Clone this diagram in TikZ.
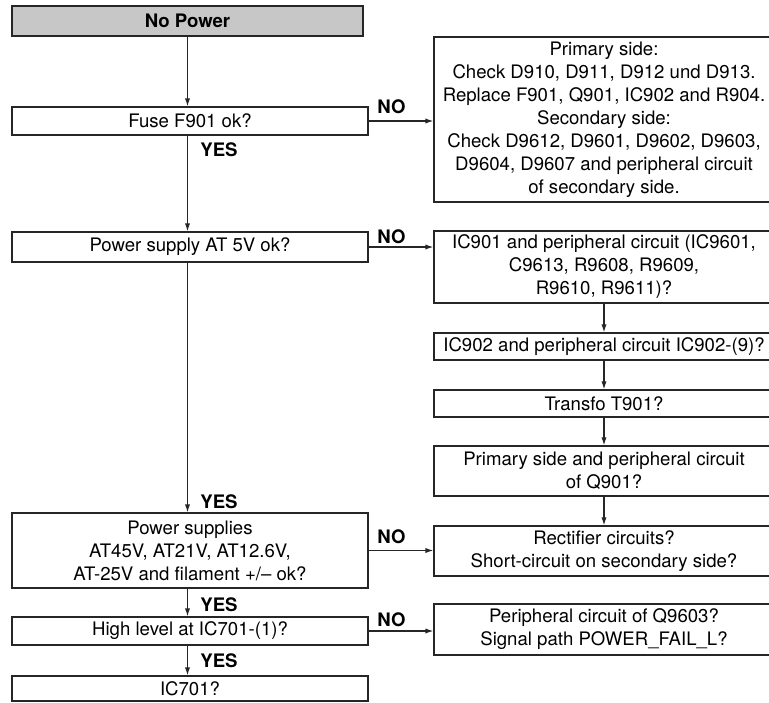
\documentclass[tikz,border=0pt]{standalone}
\usepackage{fontspec}
\setmainfont{TeX Gyre Heros}
\usetikzlibrary{arrows.meta}
\tikzset{
  box/.style={draw=black!85,line width=.6pt,inner sep=0pt,align=center,
    font=\fontsize{9.3}{11.5}\selectfont},
  lbox/.style={box,minimum width=178pt},
  rbox/.style={box,minimum width=170pt},
  lbl/.style={inner sep=0pt,anchor=west,font=\fontsize{9.3}{11.5}\selectfont\bfseries},
  arr/.style={draw=black!85,line width=.6pt,-{Latex[length=4pt,width=2.6pt]}}
}
\begin{document}
\begin{tikzpicture}[x=.5pt,y=-.5pt]
  \clip(0,0) rectangle (769,702);
  % left column
  \node[lbox,minimum width=175.5pt,minimum height=15pt,fill=black!22,line width=1.1pt,
    font=\fontsize{9.3}{11.5}\selectfont\bfseries] (nopower) at(187.5,21){No Power};
  \node[lbox,minimum height=14pt] (fuse) at(190,121){Fuse F901 ok?};
  \node[lbox,minimum height=15pt] (ps5) at(190,247){Power supply AT 5V ok?};
  \node[lbox,minimum height=37.5pt] (psall) at(190,550.5){Power supplies\\AT45V, AT21V, AT12.6V,\\AT-25V and filament +/-- ok?};
  \node[lbox,minimum height=14pt] (high) at(190,631){High level at IC701-(1)?};
  \node[lbox,minimum height=12.5pt] (ic701) at(190,688.5){IC701?};
  % right column
  \node[rbox,minimum height=82.5pt] (primary) at(604,119.5){Primary side:\\Check D910, D911, D912 und D913.\\Replace F901, Q901, IC902 and R904.\\Secondary side:\\Check D9612, D9601, D9602, D9603,\\D9604, D9607 and peripheral circuit\\of secondary side.};
  \node[rbox,minimum height=36pt] (ic901) at(604,267){IC901 and peripheral circuit (IC9601,\\C9613, R9608, R9609,\\R9610, R9611)?};
  \node[rbox,minimum height=13.5pt] (ic902) at(604,346.5){IC902 and peripheral circuit IC902-(9)?};
  \node[rbox,minimum height=13.5pt] (transfo) at(604,403.5){Transfo T901?};
  \node[rbox,minimum height=25pt] (q901) at(604,471){Primary side and peripheral circuit\\of Q901?};
  \node[rbox,minimum height=25pt] (rect) at(604,551){Rectifier circuits?\\Short-circuit on secondary side?};
  \node[rbox,minimum height=25.5pt] (q9603) at(604,629.5){Peripheral circuit of Q9603?\\Signal path POWER\_FAIL\_L?};
  % labels
  \node[lbl] (yes1) at(200,149.5){YES};
  \node[lbl] (yes2) at(200,501.5){YES};
  \node[lbl] (yes3) at(200,605){YES};
  \node[lbl] (yes4) at(200,661){YES};
  \node[lbl] (no1) at(377,106.5){NO};
  \node[lbl] (no2) at(377,236.5){NO};
  \node[lbl] (no3) at(377,537){NO};
  \node[lbl] (no4) at(377,620){NO};
  % YES path
  \draw[arr](nopower.south)--(nopower.south|-fuse.north);
  \draw[arr](nopower.south|-fuse.south)--(nopower.south|-ps5.north);
  \draw[arr](nopower.south|-ps5.south)--(nopower.south|-psall.north);
  \draw[arr](nopower.south|-psall.south)--(nopower.south|-high.north);
  \draw[arr](nopower.south|-high.south)--(nopower.south|-ic701.north);
  % NO branches
  \draw[arr](fuse.east)--(fuse.east-|primary.west);
  \draw[arr](ps5.east)--(ps5.east-|ic901.west);
  \draw[arr](psall.east)--(psall.east-|rect.west);
  \draw[arr](high.east)--(high.east-|q9603.west);
  \draw[arr](ic901)--(ic902);
  \draw[arr](ic902)--(transfo);
  \draw[arr](transfo)--(q901);
  \draw[arr](q901)--(rect);
\end{tikzpicture}
\end{document}
